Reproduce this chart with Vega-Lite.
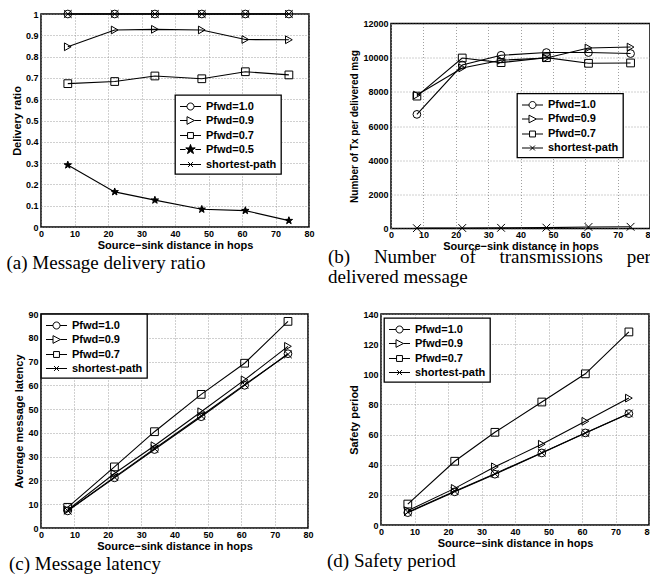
{
  "$schema": "https://vega.github.io/schema/vega-lite/v6.json",
  "padding": {"left": 5, "top": 7, "right": 0, "bottom": 0},
  "background": "white",
  "config": {
    "view": {"stroke": "black", "strokeWidth": 1.5},
    "axis": {"labelFont": "Liberation Sans", "labelFontWeight": "bold", "labelFontSize": 9, "labelColor": "black", "titleFont": "Liberation Sans", "titleFontWeight": "bold", "titleFontSize": 11, "titleColor": "black", "ticks": false, "domain": false, "gridColor": "#888", "gridDash": [1, 2], "gridWidth": 0.8, "labelFlush": false, "labelOverlap": false},
    "axisX": {"labelPadding": 2, "titlePadding": 1},
    "axisY": {"labelPadding": 3, "titlePadding": 3},
    "legend": {"title": null, "padding": 4, "strokeColor": "black", "strokeWidth": 1.3, "fillColor": "white", "labelFont": "Liberation Sans", "labelFontWeight": "bold", "labelFontSize": 11, "labelColor": "black", "symbolSize": 196, "symbolStrokeColor": "black", "symbolStrokeWidth": 1, "symbolOpacity": 1, "symbolOffset": 4, "labelOffset": 8, "rowPadding": 1, "labelLimit": 200},
    "title": {"font": "Liberation Serif", "fontSize": 19, "fontWeight": "normal", "color": "black", "orient": "bottom", "anchor": "start", "frame": "bounds"}
  },
  "datasets": {
    "a": [
      {"s": "Pfwd=1.0", "x": 8, "y": 1}, {"s": "Pfwd=1.0", "x": 22, "y": 1}, {"s": "Pfwd=1.0", "x": 34, "y": 1}, {"s": "Pfwd=1.0", "x": 48, "y": 1}, {"s": "Pfwd=1.0", "x": 61, "y": 1}, {"s": "Pfwd=1.0", "x": 74, "y": 1},
      {"s": "Pfwd=0.9", "x": 8, "y": 0.846}, {"s": "Pfwd=0.9", "x": 22, "y": 0.925}, {"s": "Pfwd=0.9", "x": 34, "y": 0.928}, {"s": "Pfwd=0.9", "x": 48, "y": 0.925}, {"s": "Pfwd=0.9", "x": 61, "y": 0.88}, {"s": "Pfwd=0.9", "x": 74, "y": 0.879},
      {"s": "Pfwd=0.7", "x": 8, "y": 0.673}, {"s": "Pfwd=0.7", "x": 22, "y": 0.683}, {"s": "Pfwd=0.7", "x": 34, "y": 0.709}, {"s": "Pfwd=0.7", "x": 48, "y": 0.696}, {"s": "Pfwd=0.7", "x": 61, "y": 0.729}, {"s": "Pfwd=0.7", "x": 74, "y": 0.714},
      {"s": "Pfwd=0.5", "x": 8, "y": 0.291}, {"s": "Pfwd=0.5", "x": 22, "y": 0.165}, {"s": "Pfwd=0.5", "x": 34, "y": 0.126}, {"s": "Pfwd=0.5", "x": 48, "y": 0.083}, {"s": "Pfwd=0.5", "x": 61, "y": 0.077}, {"s": "Pfwd=0.5", "x": 74, "y": 0.03},
      {"s": "shortest-path", "x": 8, "y": 1}, {"s": "shortest-path", "x": 22, "y": 1}, {"s": "shortest-path", "x": 34, "y": 1}, {"s": "shortest-path", "x": 48, "y": 1}, {"s": "shortest-path", "x": 61, "y": 1}, {"s": "shortest-path", "x": 74, "y": 1}
    ],
    "b": [
      {"s": "Pfwd=1.0", "x": 8, "y": 6680}, {"s": "Pfwd=1.0", "x": 22, "y": 9570}, {"s": "Pfwd=1.0", "x": 34, "y": 10140}, {"s": "Pfwd=1.0", "x": 48, "y": 10300}, {"s": "Pfwd=1.0", "x": 61, "y": 10300}, {"s": "Pfwd=1.0", "x": 74, "y": 10240},
      {"s": "Pfwd=0.9", "x": 8, "y": 7810}, {"s": "Pfwd=0.9", "x": 22, "y": 9400}, {"s": "Pfwd=0.9", "x": 34, "y": 9850}, {"s": "Pfwd=0.9", "x": 48, "y": 9980}, {"s": "Pfwd=0.9", "x": 61, "y": 10570}, {"s": "Pfwd=0.9", "x": 74, "y": 10620},
      {"s": "Pfwd=0.7", "x": 8, "y": 7750}, {"s": "Pfwd=0.7", "x": 22, "y": 9980}, {"s": "Pfwd=0.7", "x": 34, "y": 9710}, {"s": "Pfwd=0.7", "x": 48, "y": 10000}, {"s": "Pfwd=0.7", "x": 61, "y": 9670}, {"s": "Pfwd=0.7", "x": 74, "y": 9690},
      {"s": "shortest-path", "x": 8, "y": 20}, {"s": "shortest-path", "x": 22, "y": 30}, {"s": "shortest-path", "x": 34, "y": 40}, {"s": "shortest-path", "x": 48, "y": 50}, {"s": "shortest-path", "x": 61, "y": 90}, {"s": "shortest-path", "x": 74, "y": 100}
    ],
    "c": [
      {"s": "Pfwd=1.0", "x": 8, "y": 7.2}, {"s": "Pfwd=1.0", "x": 22, "y": 21.1}, {"s": "Pfwd=1.0", "x": 34, "y": 33.0}, {"s": "Pfwd=1.0", "x": 48, "y": 46.8}, {"s": "Pfwd=1.0", "x": 61, "y": 60.0}, {"s": "Pfwd=1.0", "x": 74, "y": 73.3},
      {"s": "Pfwd=0.9", "x": 8, "y": 7.6}, {"s": "Pfwd=0.9", "x": 22, "y": 22.9}, {"s": "Pfwd=0.9", "x": 34, "y": 34.6}, {"s": "Pfwd=0.9", "x": 48, "y": 48.9}, {"s": "Pfwd=0.9", "x": 61, "y": 62.3}, {"s": "Pfwd=0.9", "x": 74, "y": 76.4},
      {"s": "Pfwd=0.7", "x": 8, "y": 8.7}, {"s": "Pfwd=0.7", "x": 22, "y": 25.7}, {"s": "Pfwd=0.7", "x": 34, "y": 40.5}, {"s": "Pfwd=0.7", "x": 48, "y": 56.2}, {"s": "Pfwd=0.7", "x": 61, "y": 69.3}, {"s": "Pfwd=0.7", "x": 74, "y": 86.9},
      {"s": "shortest-path", "x": 8, "y": 7.3}, {"s": "shortest-path", "x": 22, "y": 21.4}, {"s": "shortest-path", "x": 34, "y": 33.4}, {"s": "shortest-path", "x": 48, "y": 47.2}, {"s": "shortest-path", "x": 61, "y": 60.3}, {"s": "shortest-path", "x": 74, "y": 73.0}
    ],
    "d": [
      {"s": "Pfwd=1.0", "x": 8, "y": 8.2}, {"s": "Pfwd=1.0", "x": 22, "y": 22.0}, {"s": "Pfwd=1.0", "x": 34, "y": 33.7}, {"s": "Pfwd=1.0", "x": 48, "y": 47.8}, {"s": "Pfwd=1.0", "x": 61, "y": 61.1}, {"s": "Pfwd=1.0", "x": 74, "y": 73.9},
      {"s": "Pfwd=0.9", "x": 8, "y": 9.5}, {"s": "Pfwd=0.9", "x": 22, "y": 24.3}, {"s": "Pfwd=0.9", "x": 34, "y": 38.6}, {"s": "Pfwd=0.9", "x": 48, "y": 53.6}, {"s": "Pfwd=0.9", "x": 61, "y": 68.8}, {"s": "Pfwd=0.9", "x": 74, "y": 84.2},
      {"s": "Pfwd=0.7", "x": 8, "y": 13.9}, {"s": "Pfwd=0.7", "x": 22, "y": 42.3}, {"s": "Pfwd=0.7", "x": 34, "y": 61.5}, {"s": "Pfwd=0.7", "x": 48, "y": 81.6}, {"s": "Pfwd=0.7", "x": 61, "y": 100.3}, {"s": "Pfwd=0.7", "x": 74, "y": 128.1},
      {"s": "shortest-path", "x": 8, "y": 8.5}, {"s": "shortest-path", "x": 22, "y": 22.4}, {"s": "shortest-path", "x": 34, "y": 34.0}, {"s": "shortest-path", "x": 48, "y": 48.0}, {"s": "shortest-path", "x": 61, "y": 61.0}, {"s": "shortest-path", "x": 74, "y": 74.0}
    ]
  },
  "spacing": 21,
  "vconcat": [
    {
      "spacing": 12,
      "hconcat": [
        {
          "width": 268, "height": 213,
          "data": {"name": "a"},
          "title": {"text": "(a) Message delivery ratio", "dx": -5, "offset": 4},
          "encoding": {
            "x": {"field": "x", "type": "quantitative", "scale": {"domain": [0, 80]}, "axis": {"values": [0, 10, 20, 30, 40, 50, 60, 70, 80], "title": "Source−sink distance in hops"}},
            "y": {"field": "y", "type": "quantitative", "scale": {"domain": [0, 1]}, "axis": {"values": [0, 0.1, 0.2, 0.3, 0.4, 0.5, 0.6, 0.7, 0.8, 0.9, 1], "format": "~g", "title": "Delivery ratio"}}
          },
          "layer": [
            {"mark": {"type": "line", "color": "black", "strokeWidth": 1.1}, "encoding": {"detail": {"field": "s"}}},
            {"mark": {"type": "point", "filled": true, "stroke": "black", "strokeWidth": 1, "opacity": 1},
             "encoding": {
               "shape": {"field": "s", "scale": {"domain": ["Pfwd=1.0", "Pfwd=0.9", "Pfwd=0.7", "Pfwd=0.5", "shortest-path"], "range": ["circle", "triangle-right", "square", "M0,-1L0.235,-0.324L0.951,-0.309L0.38,0.124L0.588,0.809L0,0.4L-0.588,0.809L-0.38,0.124L-0.951,-0.309L-0.235,-0.324Z", "M-1,-1L1,1M-1,1L1,-1"]}, "legend": null},
               "fill": {"field": "s", "scale": {"domain": ["Pfwd=1.0", "Pfwd=0.9", "Pfwd=0.7", "Pfwd=0.5", "shortest-path"], "range": ["transparent", "transparent", "transparent", "black", "transparent"]}, "legend": null},
               "size": {"field": "s", "scale": {"domain": ["Pfwd=1.0", "Pfwd=0.9", "Pfwd=0.7", "Pfwd=0.5", "shortest-path"], "range": [60, 60, 45, 70, 25]}, "legend": null}
             }},
            {"mark": {"type": "point", "filled": true, "stroke": "black", "opacity": 0},
             "encoding": {
               "shape": {"field": "s", "scale": {"domain": ["Pfwd=1.0", "Pfwd=0.9", "Pfwd=0.7", "Pfwd=0.5", "shortest-path"], "range": [
                 "M-1.5,0H-0.5M0.5,0H1.5M-0.5,0A0.5,0.5,0,1,1,0.5,0A0.5,0.5,0,1,1,-0.5,0Z",
                 "M-1.5,0H-0.5M0.55,0H1.5M-0.5,-0.55L0.55,0L-0.5,0.55Z",
                 "M-1.5,0H-0.42M0.42,0H1.5M-0.42,-0.42H0.42V0.42H-0.42Z",
                 "M-1.5,0H-0.7M0.7,0H1.5M0,-0.7L0.165,-0.227L0.666,-0.216L0.266,0.087L0.412,0.566L0,0.28L-0.412,0.566L-0.266,0.087L-0.666,-0.216L-0.165,-0.227ZM0,-0.5L0.118,-0.162L0.476,-0.155L0.19,0.062L0.294,0.405L0,0.2L-0.294,0.405L-0.19,0.062L-0.476,-0.155L-0.118,-0.162ZM0,-0.3L0.071,-0.097L0.285,-0.093L0.114,0.037L0.176,0.243L0,0.12L-0.176,0.243L-0.114,0.037L-0.285,-0.093L-0.071,-0.097ZM0,-0.12L0.114,-0.037L0.07,0.097L-0.07,0.097L-0.114,-0.037ZM0,0L0,-0.7M0,0L0.666,-0.216M0,0L0.412,0.566M0,0L-0.412,0.566M0,0L-0.666,-0.216",
                 "M-1.5,0H1.5M-0.35,-0.35L0.35,0.35M-0.35,0.35L0.35,-0.35"]}, "legend": {"orient": "none", "legendX": 134, "legendY": 81, "symbolFillColor": "transparent"}},
               "fill": {"value": "transparent"}
             }}
          ],
          "resolve": {"scale": {"shape": "independent", "fill": "independent", "size": "independent"}, "legend": {"shape": "independent"}}
        },
        {
          "spacing": 3.5,
          "vconcat": [
            {"width": 259, "height": 1, "data": {"values": []}, "mark": {"type": "point", "opacity": 0}, "view": {"stroke": null}},
            {
              "width": 259, "height": 205,
              "data": {"name": "b"},
              "title": {"text": ["(b)\u2003 Number\u2003 of\u2003 transmissions\u2003 per", "delivered message"], "dx": -22, "offset": -4, "lineHeight": 20},
              "encoding": {
                "x": {"field": "x", "type": "quantitative", "scale": {"domain": [0, 80]}, "axis": {"values": [0, 10, 20, 30, 40, 50, 60, 70, 80], "title": "Source−sink distance in hops"}},
                "y": {"field": "y", "type": "quantitative", "scale": {"domain": [0, 12000]}, "axis": {"values": [0, 2000, 4000, 6000, 8000, 10000, 12000], "format": "d", "title": "Number of Tx per delivered msg", "titleFontSize": 10}}
              },
              "layer": [
                {"mark": {"type": "line", "color": "black", "strokeWidth": 1.1}, "encoding": {"detail": {"field": "s"}}},
                {"mark": {"type": "point", "filled": true, "stroke": "black", "strokeWidth": 1, "opacity": 1},
                 "encoding": {
                   "shape": {"field": "s", "scale": {"domain": ["Pfwd=1.0", "Pfwd=0.9", "Pfwd=0.7", "shortest-path"], "range": ["circle", "triangle-right", "square", "M-1,-1L1,1M-1,1L1,-1"]}, "legend": null},
                   "size": {"field": "s", "scale": {"domain": ["Pfwd=1.0", "Pfwd=0.9", "Pfwd=0.7", "shortest-path"], "range": [60, 60, 45, 25]}, "legend": null},
                   "fill": {"value": "transparent"}
                 }},
                {"mark": {"type": "point", "filled": true, "stroke": "black", "opacity": 0},
                 "encoding": {
                   "shape": {"field": "s", "scale": {"domain": ["Pfwd=1.0", "Pfwd=0.9", "Pfwd=0.7", "shortest-path"], "range": [
                     "M-1.5,0H-0.5M0.5,0H1.5M-0.5,0A0.5,0.5,0,1,1,0.5,0A0.5,0.5,0,1,1,-0.5,0Z",
                     "M-1.5,0H-0.5M0.55,0H1.5M-0.5,-0.55L0.55,0L-0.5,0.55Z",
                     "M-1.5,0H-0.42M0.42,0H1.5M-0.42,-0.42H0.42V0.42H-0.42Z",
                     "M-1.5,0H1.5M-0.35,-0.35L0.35,0.35M-0.35,0.35L0.35,-0.35"]}, "legend": {"orient": "none", "legendX": 126, "legendY": 70, "symbolFillColor": "transparent"}},
                   "fill": {"value": "transparent"}
                 }}
              ],
              "resolve": {"scale": {"shape": "independent", "size": "independent"}, "legend": {"shape": "independent"}}
            }
          ]
        }
      ]
    },
    {
      "spacing": 12,
      "hconcat": [
        {
          "width": 267, "height": 214,
          "data": {"name": "c"},
          "title": {"text": "(c) Message latency", "dx": -5, "offset": 4},
          "encoding": {
            "x": {"field": "x", "type": "quantitative", "scale": {"domain": [0, 80]}, "axis": {"values": [0, 10, 20, 30, 40, 50, 60, 70, 80], "title": "Source−sink distance in hops"}},
            "y": {"field": "y", "type": "quantitative", "scale": {"domain": [0, 90]}, "axis": {"values": [0, 10, 20, 30, 40, 50, 60, 70, 80, 90], "title": "Average message latency"}}
          },
          "layer": [
            {"mark": {"type": "line", "color": "black", "strokeWidth": 1.1}, "encoding": {"detail": {"field": "s"}}},
            {"mark": {"type": "point", "filled": true, "stroke": "black", "strokeWidth": 1, "opacity": 1},
             "encoding": {
               "shape": {"field": "s", "scale": {"domain": ["Pfwd=1.0", "Pfwd=0.9", "Pfwd=0.7", "shortest-path"], "range": ["circle", "triangle-right", "square", "M-1,-1L1,1M-1,1L1,-1"]}, "legend": null},
               "size": {"field": "s", "scale": {"domain": ["Pfwd=1.0", "Pfwd=0.9", "Pfwd=0.7", "shortest-path"], "range": [60, 60, 45, 25]}, "legend": null},
               "fill": {"value": "transparent"}
             }},
            {"mark": {"type": "point", "filled": true, "stroke": "black", "opacity": 0},
             "encoding": {
               "shape": {"field": "s", "scale": {"domain": ["Pfwd=1.0", "Pfwd=0.9", "Pfwd=0.7", "shortest-path"], "range": [
                 "M-1.5,0H-0.5M0.5,0H1.5M-0.5,0A0.5,0.5,0,1,1,0.5,0A0.5,0.5,0,1,1,-0.5,0Z",
                 "M-1.5,0H-0.5M0.55,0H1.5M-0.5,-0.55L0.55,0L-0.5,0.55Z",
                 "M-1.5,0H-0.42M0.42,0H1.5M-0.42,-0.42H0.42V0.42H-0.42Z",
                 "M-1.5,0H1.5M-0.35,-0.35L0.35,0.35M-0.35,0.35L0.35,-0.35"]}, "legend": {"orient": "none", "legendX": 0, "legendY": 0, "symbolFillColor": "transparent"}},
               "fill": {"value": "transparent"}
             }}
          ],
          "resolve": {"scale": {"shape": "independent", "size": "independent"}, "legend": {"shape": "independent"}}
        },
        {
          "width": 268, "height": 211,
          "data": {"name": "d"},
          "title": {"text": "(d) Safety period", "dx": -22, "offset": 4},
          "encoding": {
            "x": {"field": "x", "type": "quantitative", "scale": {"domain": [0, 80]}, "axis": {"values": [0, 10, 20, 30, 40, 50, 60, 70, 80], "title": "Source−sink distance in hops"}},
            "y": {"field": "y", "type": "quantitative", "scale": {"domain": [0, 140]}, "axis": {"values": [0, 20, 40, 60, 80, 100, 120, 140], "title": "Safety period"}}
          },
          "layer": [
            {"mark": {"type": "line", "color": "black", "strokeWidth": 1.1}, "encoding": {"detail": {"field": "s"}}},
            {"mark": {"type": "point", "filled": true, "stroke": "black", "strokeWidth": 1, "opacity": 1},
             "encoding": {
               "shape": {"field": "s", "scale": {"domain": ["Pfwd=1.0", "Pfwd=0.9", "Pfwd=0.7", "shortest-path"], "range": ["circle", "triangle-right", "square", "M-1,-1L1,1M-1,1L1,-1"]}, "legend": null},
               "size": {"field": "s", "scale": {"domain": ["Pfwd=1.0", "Pfwd=0.9", "Pfwd=0.7", "shortest-path"], "range": [60, 60, 45, 25]}, "legend": null},
               "fill": {"value": "transparent"}
             }},
            {"mark": {"type": "point", "filled": true, "stroke": "black", "opacity": 0},
             "encoding": {
               "shape": {"field": "s", "scale": {"domain": ["Pfwd=1.0", "Pfwd=0.9", "Pfwd=0.7", "shortest-path"], "range": [
                 "M-1.5,0H-0.5M0.5,0H1.5M-0.5,0A0.5,0.5,0,1,1,0.5,0A0.5,0.5,0,1,1,-0.5,0Z",
                 "M-1.5,0H-0.5M0.55,0H1.5M-0.5,-0.55L0.55,0L-0.5,0.55Z",
                 "M-1.5,0H-0.42M0.42,0H1.5M-0.42,-0.42H0.42V0.42H-0.42Z",
                 "M-1.5,0H1.5M-0.35,-0.35L0.35,0.35M-0.35,0.35L0.35,-0.35"]}, "legend": {"orient": "none", "legendX": 3, "legendY": 4, "symbolFillColor": "transparent"}},
               "fill": {"value": "transparent"}
             }}
          ],
          "resolve": {"scale": {"shape": "independent", "size": "independent"}, "legend": {"shape": "independent"}}
        }
      ]
    }
  ]
}
